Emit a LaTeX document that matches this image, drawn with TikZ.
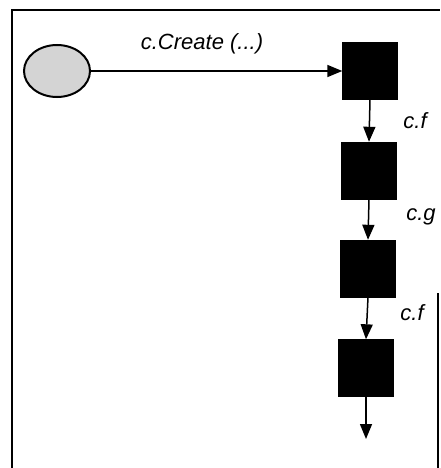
\documentclass[tikz,border=0pt]{standalone}
\usepackage{fontspec}
\setmainfont{Liberation Sans}
\usetikzlibrary{arrows.meta,shapes.geometric}
\tikzset{
  obj/.style={draw=black, fill=black, minimum width=55pt, minimum height=57pt, inner sep=0pt},
  client/.style={ellipse, draw=black, line width=2pt, fill=black!17, minimum width=66pt, minimum height=52pt, inner sep=0pt},
  msg/.style={-{Triangle[length=15pt,width=12pt]}, line width=1.5pt},
  lbl/.style={font=\fontsize{22}{24}\selectfont\itshape, inner sep=0pt},
  frame/.style={line width=2pt}
}
\begin{document}
\begin{tikzpicture}[x=1pt,y=-1pt]
  \useasboundingbox (0,0) rectangle (440,468);
  % enclosing frame, open at the bottom
  \draw[frame] (12,468) -- (12,10) -- (440,10);
  \draw[frame] (438,293) -- (438,468);
  % the creating client
  \node[client] (cl) at (57,71) {};
  % chain of objects
  \node[obj] (o1) at (370,71) {};
  \node[obj] (o2) at (369,170.5) {};
  \node[obj] (o3) at (368,268.5) {};
  \node[obj] (o4) at (366,368) {};
  \coordinate (end) at (366,439);
  % messages
  \draw[msg] (cl.east) -- (o1.west);
  \draw[msg] (o1.south) -- (o2.north);
  \draw[msg] (o2.south) -- (o3.north);
  \draw[msg] (o3.south) -- (o4.north);
  \draw[msg] (o4.south) -- (end);
  % message labels
  \node[lbl] (l0) at (202,44) {c.Create (...)};
  \node[lbl] (l1) at (415,121) {c.f};
  \node[lbl] (l2) at (421,217) {c.g};
  \node[lbl] (l3) at (412,313) {c.f};
\end{tikzpicture}
\end{document}
